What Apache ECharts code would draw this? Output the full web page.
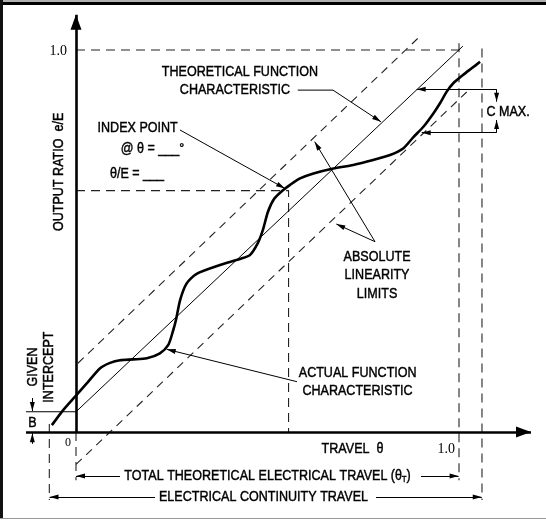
<!DOCTYPE html>
<html><head><meta charset="utf-8">
<script src="https://cdn.jsdelivr.net/npm/echarts@6/dist/echarts.min.js"></script>
<style>html,body{margin:0;padding:0;background:#fff}#c{width:546px;height:520px}</style>
</head><body><div id="c"></div>
<script>
const SANS = '"Liberation Sans",Arial,Helvetica,sans-serif';
const SERIF = '"Liberation Serif","Times New Roman",serif';

// Actual function characteristic: [travel θ, output ratio e/E]
const actualCurve = [
  [-0.063,0.018],[-0.033,0.058],[-0.003,0.092],[0.028,0.127],[0.063,0.167],[0.089,0.181],
  [0.115,0.188],[0.150,0.190],[0.185,0.193],[0.219,0.206],[0.241,0.228],[0.254,0.267],
  [0.261,0.293],[0.272,0.346],[0.289,0.389],[0.315,0.414],[0.376,0.437],[0.428,0.453],
  [0.454,0.463],[0.475,0.495],[0.488,0.529],[0.501,0.576],[0.517,0.610],[0.538,0.631],
  [0.559,0.647],[0.585,0.664],[0.620,0.677],[0.672,0.690],[0.724,0.699],[0.776,0.712],
  [0.820,0.725],[0.855,0.743],[0.881,0.772],[0.907,0.799],[0.933,0.834],[0.950,0.860],
  [0.968,0.891],[0.985,0.913],[1.011,0.935],[1.033,0.952],[1.055,0.969]
];
const theoreticalLine = [[0,0.053],[1.01,1.01]];
const upperLimit = [[0.005,0.18],[0.893,1.031]];
const lowerLimit = [[0,-0.085],[1.02,0.89]];
const interceptLine = [[-0.1305,0.053],[0,0.053]];
const theoryLeader = [[0.579,0.895],[0.671,0.895]];
const dashedGuides = [
  [[0,1],[1,1]],
  [[1,1.0175],[1,-0.126]],
  [[1.06,1.004],[1.06,-0.178]],
  [[0,0],[0,-0.126]],
  [[-0.0697,0.021],[-0.0697,-0.178]],
  [[0,0.632],[0.555,0.632],[0.555,0]]
];
const axesLines = [
  [0,0,0,1.092],
  [-0.1305,0,1.188,0]
];
// leaders / dimension arrows: [x1,y1,x2,y2], arrowhead at the second point
const arrowLeaders = [
  [0.2715,0.7906,0.5457,0.6374],
  [0.6710,0.895,0.7963,0.812],
  [0.7807,0.4982,0.6232,0.7600],
  [0.7807,0.4982,0.6796,0.5445],
  [0.5770,0.1317,0.2368,0.2165],
  [1.0982,0.8971,1.0982,0.8647],
  [1.0982,0.7835,1.0982,0.8168],
  [1.0982,0.8971,0.8896,0.8971],
  [1.0982,0.7835,0.9026,0.7835],
  [-0.114,0.089,-0.114,0.055],
  [-0.114,-0.031,-0.114,-0.003],
  [0.1149,-0.1152,0,-0.1152],
  [0.9008,-0.1152,0.999,-0.1152],
  [0.2063,-0.1702,-0.0692,-0.1702],
  [0.7833,-0.1702,1.0594,-0.1702]
];
const noteTexts = [
  'THEORETICAL FUNCTION','CHARACTERISTIC','INDEX POINT','@ θ = ___°','θ/E = ___',
  'ABSOLUTE','LINEARITY','LIMITS','ACTUAL FUNCTION','CHARACTERISTIC','C MAX.',
  'OUTPUT RATIO  e/E','GIVEN','INTERCEPT','B','TRAVEL  θ',
  'TOTAL THEORETICAL ELECTRICAL TRAVEL (θ{s|T})','ELECTRICAL CONTINUITY TRAVEL'
];
const notePos = [
  [0.428,0.942],[0.415,0.895],[0.161,0.796],[0.1997,0.7427],[0.1593,0.677],
  [0.786,0.459],[0.786,0.411],[0.786,0.363],[0.7355,0.154],[0.735,0.107],[1.128,0.8385],
  [-0.0444,0.681],[-0.112,0.170],[-0.0705,0.170],[-0.114,0.0236],[0.722,-0.0445],
  [0.5,-0.115],[0.4896,-0.170]
];
const noteRotate = [0,0,0,0,0,0,0,0,0,0,0,90,90,90,0,0,0,0];

// tick labels: text and the axis value they belong to
const tickTexts = ['1.0','0','1.0'];
const tickValues = [[0,1],[0,0],[1,0]];

const chart = echarts.init(document.getElementById('c'), null, {renderer:'canvas'});

const series = [];
const thin = {color:'#000', width:1};
series.push({type:'line', data: theoreticalLine, showSymbol:false, symbol:'none', silent:true, lineStyle:thin, z:3});
series.push({type:'line', data: interceptLine, showSymbol:false, symbol:'none', silent:true, lineStyle:thin, z:3});
series.push({type:'line', data: theoryLeader, showSymbol:false, symbol:'none', silent:true, lineStyle:thin, z:3});
[upperLimit, lowerLimit].forEach(d => series.push({type:'line', data:d, showSymbol:false, symbol:'none', silent:true,
  lineStyle:{color:'#222', width:1.1, type:[8,6]}, z:2}));
dashedGuides.forEach(d => series.push({type:'line', data:d, showSymbol:false, symbol:'none', silent:true,
  lineStyle:{color:'#222', width:1.1, type:[9,6]}, z:2}));
series.push({type:'line', data: actualCurve, showSymbol:false, symbol:'none', smooth:0.25, silent:true,
  lineStyle:{color:'#000', width:2.6}, z:4});

const mlData = [];
axesLines.forEach(a => mlData.push([
  {coord:[a[0],a[1]], symbol:'none'},
  {coord:[a[2],a[3]], symbol:'triangle', symbolSize:[11,15], symbolOffset:[0,'50%'],
   lineStyle:{width:2.6, color:'#000', type:'solid'}}
]));
arrowLeaders.forEach(a => mlData.push([
  {coord:[a[0],a[1]], symbol:'none'},
  {coord:[a[2],a[3]], symbol:'triangle', symbolSize:[5,9], symbolOffset:[0,'50%'],
   lineStyle:{width:1, color:'#000', type:'solid'}}
]));
series.push({type:'line', data:[], silent:true, z:5,
  markLine:{silent:true, animation:false, label:{show:false}, emphasis:{disabled:true},
    lineStyle:{color:'#000', type:'solid', width:1}, itemStyle:{color:'#000'},
    data: mlData}});

chart.setOption({
  animation:false,
  backgroundColor:'#fff',
  grid:{left:18.55, right:10.4, top:11.8, bottom:11.6, outerBoundsMode:'none', containLabel:false},
  xAxis:{type:'value', min:-0.15, max:1.2, interval:0.05,
    axisLine:{show:false}, axisTick:{show:false}, splitLine:{show:false}, axisLabel:{show:false}},
  yAxis:{type:'value', min:-0.2, max:1.1, interval:0.05,
    axisLine:{show:false}, axisTick:{show:false}, splitLine:{show:false}, axisLabel:{show:false}},
  series: series
});

const frame = [
  {type:'rect', shape:{x:0,y:0,width:546,height:2}, style:{fill:'#b0b0b0'}, silent:true},
  {type:'rect', shape:{x:0,y:2,width:546,height:3}, style:{fill:'#000'}, silent:true},
  {type:'rect', shape:{x:0,y:0,width:3,height:519}, style:{fill:'#111'}, silent:true},
  {type:'rect', shape:{x:0,y:518,width:546,height:1}, style:{fill:'#999'}, silent:true}
];
const toPx = v => chart.convertToPixel({gridIndex:0}, v);
const noteEls = noteTexts.map((t,i) => {
  const p = toPx(notePos[i]);
  return {type:'text', x:p[0], y:p[1], rotation: noteRotate[i]*Math.PI/180, scaleX:0.81, z:50, silent:true,
    style:{text:t, fontFamily:SANS, fontSize:15.5, fill:'#000', stroke:'#000', lineWidth:0.45,
      align:'center', verticalAlign:'middle',
      rich:{s:{fontFamily:SANS, fontSize:9, fill:'#000', padding:[8,0,0,0]}}}};
});
// tick label placement relative to their tick (pixel nudges are style)
const tickNudge = [[-9,1.5,14],[-5,11,12],[-4,17,14]];
const tickEls = tickTexts.map((t,i) => {
  const p = toPx(tickValues[i]);
  return {type:'text', x:p[0]+tickNudge[i][0], y:p[1]+tickNudge[i][1], z:50, silent:true,
    style:{text:t, fontFamily:SERIF, fontSize:tickNudge[i][2], fill:'#000', align:'right', verticalAlign:'middle'}};
});
chart.setOption({graphic: frame.concat(noteEls, tickEls)});
</script></body></html>
